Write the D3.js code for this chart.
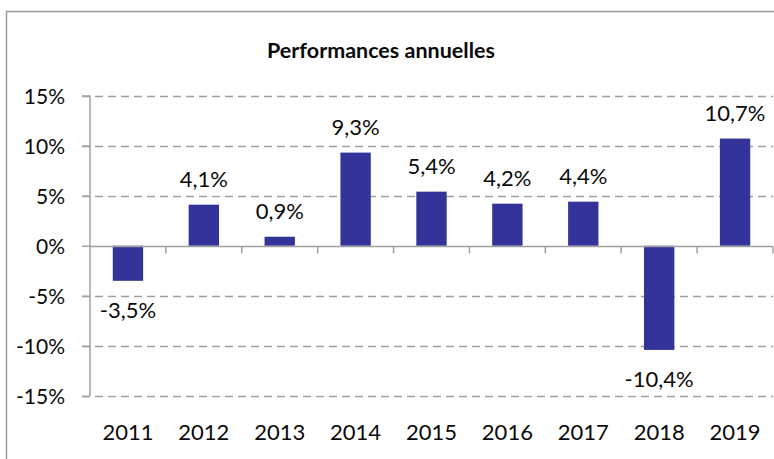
<!DOCTYPE html>
<html>
<head>
<meta charset="utf-8">
<script src="https://cdn.jsdelivr.net/npm/d3@7"></script>
<style>
  html, body { margin: 0; padding: 0; background: #fff; }
  svg { display: block; font-family: Lato, "Open Sans", sans-serif; }
</style>
</head>
<body>
<svg id="chart" width="774" height="459"></svg>
<script>
// Bar chart of yearly returns, values in percent.
const years  = ['2011', '2012', '2013', '2014', '2015', '2016', '2017', '2018', '2019'];
const values = [-3.5, 4.1, 0.9, 9.3, 5.4, 4.2, 4.4, -10.4, 10.7];
const yTicks = [-15, -10, -5, 0, 5, 10, 15];
const title  = 'Performances annuelles';

const W = 774, H = 459;
const plot = { left: 90, right: 773, top: 95.5, bottom: 396 };
const gridColor = '#a0a0a0';
const barColor  = '#333399';
const ink = '#0a0a0a';

const svg = d3.select('#chart');

// outer frame of the chart object
svg.append('rect')
  .attr('x', 6.5).attr('y', 11.5)
  .attr('width', W + 20).attr('height', H + 20)
  .attr('fill', '#fff').attr('stroke', '#9a9a9a').attr('stroke-width', 1.5);

svg.append('text')
  .attr('x', 381).attr('y', 58)
  .attr('text-anchor', 'middle')
  .attr('font-size', 21.5).attr('font-weight', 700)
  .attr('fill', ink)
  .text(title);

const x = d3.scaleBand().domain(years).range([plot.left, plot.right]).paddingInner(0.6).paddingOuter(0.3);
const xb = d3.scaleBand().domain(years).range([plot.left, plot.right]);
const y = d3.scaleLinear().domain([-15, 15]).range([plot.bottom, plot.top]);

// dashed gridlines (except zero, which is the category axis)
svg.append('g').selectAll('line')
  .data(yTicks.filter(t => t !== 0))
  .enter().append('line')
    .attr('x1', 82).attr('x2', plot.right)
    .attr('y1', d => Math.round(y(d)) + 0.5).attr('y2', d => Math.round(y(d)) + 0.5)
    .attr('stroke', gridColor).attr('stroke-width', 1.5)
    .attr('stroke-dasharray', '8,5');

// y axis
const yAxis = d3.axisLeft(y).tickValues(yTicks).tickSize(8).tickFormat(d => d + '%');
const gy = svg.append('g').attr('transform', `translate(${plot.left},0)`).call(yAxis);
gy.select('.domain').remove();
gy.append('line')
  .attr('x1', 0).attr('x2', 0)
  .attr('y1', y(15)).attr('y2', y(-15))
  .attr('stroke', gridColor).attr('stroke-width', 1.5);
gy.selectAll('.tick line').attr('stroke', gridColor).attr('stroke-width', 1.5);
gy.selectAll('.tick text')
  .attr('x', -25).attr('dy', '0.36em')
  .attr('font-size', 21).attr('font-family', 'Lato, sans-serif').attr('fill', ink);

// bars
svg.append('g').selectAll('rect')
  .data(values)
  .enter().append('rect')
    .attr('x', (d, i) => x(years[i]))
    .attr('width', x.bandwidth())
    .attr('y', d => y(Math.max(0, d)))
    .attr('height', d => Math.abs(y(d) - y(0)))
    .attr('fill', barColor);

// category axis at zero with ticks between categories
const z = Math.round(y(0)) + 0.5;
svg.append('line')
  .attr('x1', plot.left).attr('x2', plot.right)
  .attr('y1', z).attr('y2', z)
  .attr('stroke', gridColor).attr('stroke-width', 1.5);
svg.append('g').selectAll('line')
  .data(years)
  .enter().append('line')
    .attr('x1', d => xb(d) + xb.bandwidth()).attr('x2', d => xb(d) + xb.bandwidth())
    .attr('y1', z).attr('y2', z + 7)
    .attr('stroke', gridColor).attr('stroke-width', 1.5);

// value labels
const fmt = v => v.toFixed(1).replace('.', ',') + '%';
svg.append('g').selectAll('text')
  .data(values)
  .enter().append('text')
    .attr('x', (d, i) => x(years[i]) + x.bandwidth() / 2)
    .attr('y', d => d >= 0 ? y(d) - 18 : y(d) + 37)
    .attr('text-anchor', 'middle')
    .attr('font-size', 22).attr('fill', ink)
    .text(fmt);

// year labels
svg.append('g').selectAll('text')
  .data(years)
  .enter().append('text')
    .attr('x', d => xb(d) + xb.bandwidth() / 2)
    .attr('y', 439.5)
    .attr('text-anchor', 'middle')
    .attr('font-size', 22).attr('fill', ink)
    .text(d => d);
</script>
</body>
</html>
